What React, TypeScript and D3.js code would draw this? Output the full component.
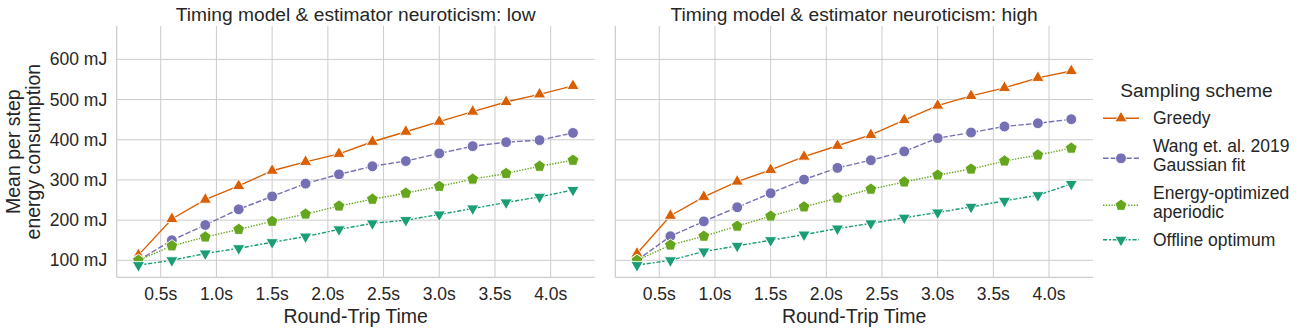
import React, { useRef, useEffect } from "react";
import * as d3 from "d3";

// round-trip time (s) at each sample
const rtt = [0.3, 0.6, 0.9, 1.2, 1.5, 1.8, 2.1, 2.4, 2.7, 3.0, 3.3, 3.6, 3.9, 4.2];

// mean per step energy (mJ), neuroticism: low
const greedyLow = [113, 203, 251, 285, 323, 345, 365, 395, 420, 445, 470, 494, 513, 534];
const wangLow = [100, 150, 188, 227, 259, 291, 314, 334, 347, 366, 384, 394, 399, 417];
const energyLow = [100, 136, 158, 177, 197, 215, 235, 252, 267, 284, 302, 316, 334, 349];
const offlineLow = [88, 100, 117, 130, 145, 159, 177, 192, 200, 214, 229, 244, 258, 275];

// neuroticism: high
const greedyHigh = [117, 211, 258, 296, 325, 358, 385, 412, 449, 485, 509, 529, 554, 571];
const wangHigh = [100, 160, 197, 232, 267, 301, 330, 349, 371, 404, 418, 433, 441, 451];
const energyHigh = [100, 138, 160, 185, 210, 233, 255, 277, 295, 312, 327, 347, 362, 379];
const offlineHigh = [88, 100, 122, 136, 150, 164, 179, 192, 206, 219, 233, 248, 262, 290];

const schemes = [
  ["Greedy"],
  ["Wang et. al. 2019", "Gaussian fit"],
  ["Energy-optimized", "aperiodic"],
  ["Offline optimum"],
];
const colors = ["#d95f02", "#7570b3", "#66a61e", "#1b9e77"];
const markers = ["triangle", "circle", "pentagon", "triangleDown"];
const lw = 1.4;
const dashes = ["", `${4 * lw},${1.5 * lw}`, `${lw},${lw}`, `${3 * lw},${1.25 * lw},${1.5 * lw},${1.25 * lw}`];

const panels = [
  { title: "Timing model & estimator neuroticism: low", series: [greedyLow, wangLow, energyLow, offlineLow], x0: 116.7, x1: 594.7 },
  { title: "Timing model & estimator neuroticism: high", series: [greedyHigh, wangHigh, energyHigh, offlineHigh], x0: 615.3, x1: 1093 },
];

const yTicks = [100, 200, 300, 400, 500, 600];
const xTicks = [0.5, 1.0, 1.5, 2.0, 2.5, 3.0, 3.5, 4.0];

const FONT = "'Liberation Sans', Arial, sans-serif";
const INK = "#262626";
const GRID = "#cccccc";
const TICK_FS = 17.5;
const LABEL_FS = 19.5;

const pentagon = (r: number) => {
  const p = d3.path();
  d3.range(5).forEach((i) => {
    const a = -Math.PI / 2 + (i * 2 * Math.PI) / 5;
    if (i === 0) p.moveTo(r * Math.cos(a), r * Math.sin(a));
    else p.lineTo(r * Math.cos(a), r * Math.sin(a));
  });
  p.closePath();
  return p.toString();
};

const markerPath = (kind: string) => {
  if (kind === "circle") return d3.symbol(d3.symbolCircle, 92)()!;
  if (kind === "pentagon") return pentagon(6.2);
  return d3.symbol(d3.symbolTriangle, 66)()!;
};

const App = () => {
  const ref = useRef<SVGSVGElement>(null);

  useEffect(() => {
    const svg = d3.select(ref.current);
    svg.selectAll("*").remove();

    const top = 26;
    const bottom = 277.3;
    const y = d3.scaleLinear().domain([57.8, 683]).range([bottom, top]);

    panels.forEach((pnl, pi) => {
      const x = d3.scaleLinear().domain([0.105, 4.395]).range([pnl.x0, pnl.x1]);
      const g = svg.append("g");

      // grid
      g.selectAll("line.gx")
        .data(xTicks)
        .join("line")
        .attr("x1", (d) => x(d))
        .attr("x2", (d) => x(d))
        .attr("y1", top)
        .attr("y2", bottom)
        .attr("stroke", GRID)
        .attr("stroke-width", 1);
      g.selectAll("line.gy")
        .data(yTicks)
        .join("line")
        .attr("x1", pnl.x0)
        .attr("x2", pnl.x1)
        .attr("y1", (d) => y(d))
        .attr("y2", (d) => y(d))
        .attr("stroke", GRID)
        .attr("stroke-width", 1);

      // spines
      g.append("line").attr("x1", pnl.x0).attr("x2", pnl.x0).attr("y1", top).attr("y2", bottom).attr("stroke", GRID).attr("stroke-width", 1.25);
      g.append("line").attr("x1", pnl.x0).attr("x2", pnl.x1).attr("y1", bottom).attr("y2", bottom).attr("stroke", GRID).attr("stroke-width", 1.25);

      // tick labels
      g.selectAll("text.xt")
        .data(xTicks)
        .join("text")
        .attr("x", (d) => x(d))
        .attr("y", 300)
        .attr("text-anchor", "middle")
        .attr("font-size", TICK_FS)
        .attr("font-family", FONT)
        .attr("fill", INK)
        .text((d) => `${d.toFixed(1)}s`);

      if (pi === 0) {
        svg.append("g")
          .selectAll("text")
          .data(yTicks)
          .join("text")
          .attr("x", pnl.x0 - 9.5)
          .attr("y", (d) => y(d))
          .attr("dy", "0.35em")
          .attr("text-anchor", "end")
          .attr("font-size", TICK_FS)
          .attr("font-family", FONT)
          .attr("fill", INK)
          .text((d) => `${d} mJ`);

        const yl = svg.append("text")
          .attr("transform", `translate(0, ${(top + bottom) / 2}) rotate(-90)`)
          .attr("text-anchor", "middle")
          .attr("font-size", LABEL_FS)
          .attr("font-family", FONT)
          .attr("fill", INK);
        yl.append("tspan").attr("x", 0).attr("y", 20).text("Mean per step");
        yl.append("tspan").attr("x", 0).attr("y", 40).text("energy consumption");
      }

      g.append("text")
        .attr("x", (pnl.x0 + pnl.x1) / 2)
        .attr("y", 322.5)
        .attr("text-anchor", "middle")
        .attr("font-size", LABEL_FS)
        .attr("font-family", FONT)
        .attr("fill", INK)
        .text("Round-Trip Time");

      g.append("text")
        .attr("x", (pnl.x0 + pnl.x1) / 2)
        .attr("y", 21)
        .attr("text-anchor", "middle")
        .attr("font-size", 19.2)
        .attr("font-family", FONT)
        .attr("fill", INK)
        .text(pnl.title);

      // series
      const line = d3
        .line<number>()
        .x((_, i) => x(rtt[i]))
        .y((v) => y(v));

      pnl.series.forEach((vals, si) => {
        const sg = g.append("g");
        sg.append("path")
          .attr("d", line(vals))
          .attr("fill", "none")
          .attr("stroke", colors[si])
          .attr("stroke-width", lw)
          .attr("stroke-dasharray", dashes[si] || null);
        sg.selectAll("path.m")
          .data(vals)
          .join("path")
          .attr("d", markerPath(markers[si]))
          .attr("transform", (v, i) => `translate(${x(rtt[i])},${y(v)})${markers[si] === "triangleDown" ? " rotate(180)" : ""}`)
          .attr("fill", colors[si])
          .attr("stroke", "white")
          .attr("stroke-width", 0.9);
      });
    });

    // legend
    const lg = svg.append("g");
    lg.append("text")
      .attr("x", 1196.5)
      .attr("y", 90.7)
      .attr("dy", "0.35em")
      .attr("text-anchor", "middle")
      .attr("font-size", 19.2)
      .attr("font-family", FONT)
      .attr("fill", INK)
      .text("Sampling scheme");

    const lineH = 19.5;
    const gap = 27.5;
    let cy = 118.3;
    schemes.forEach((lines, si) => {
      const first = cy;
      const last = first + (lines.length - 1) * lineH;
      const hy = last - (lines.length - 1) * 7;
      lg.append("line")
        .attr("x1", 1103)
        .attr("x2", 1139)
        .attr("y1", hy)
        .attr("y2", hy)
        .attr("stroke", colors[si])
        .attr("stroke-width", lw)
        .attr("stroke-dasharray", dashes[si] || null);
      lg.append("path")
        .attr("d", markerPath(markers[si]))
        .attr("transform", `translate(1121,${hy})${markers[si] === "triangleDown" ? " rotate(180)" : ""}`)
        .attr("fill", colors[si])
        .attr("stroke", "white")
        .attr("stroke-width", 0.9);
      lines.forEach((t, li) => {
        lg.append("text")
          .attr("x", 1153)
          .attr("y", first + li * lineH)
          .attr("dy", "0.35em")
          .attr("font-size", TICK_FS)
          .attr("font-family", FONT)
          .attr("fill", INK)
          .text(t);
      });
      cy = last + gap;
    });
  }, []);

  return (
    <div>
      <svg ref={ref} width={1305} height={332} style={{ position: "absolute", left: 0, top: 0, background: "white" }} />
    </div>
  );
};

export default App;
